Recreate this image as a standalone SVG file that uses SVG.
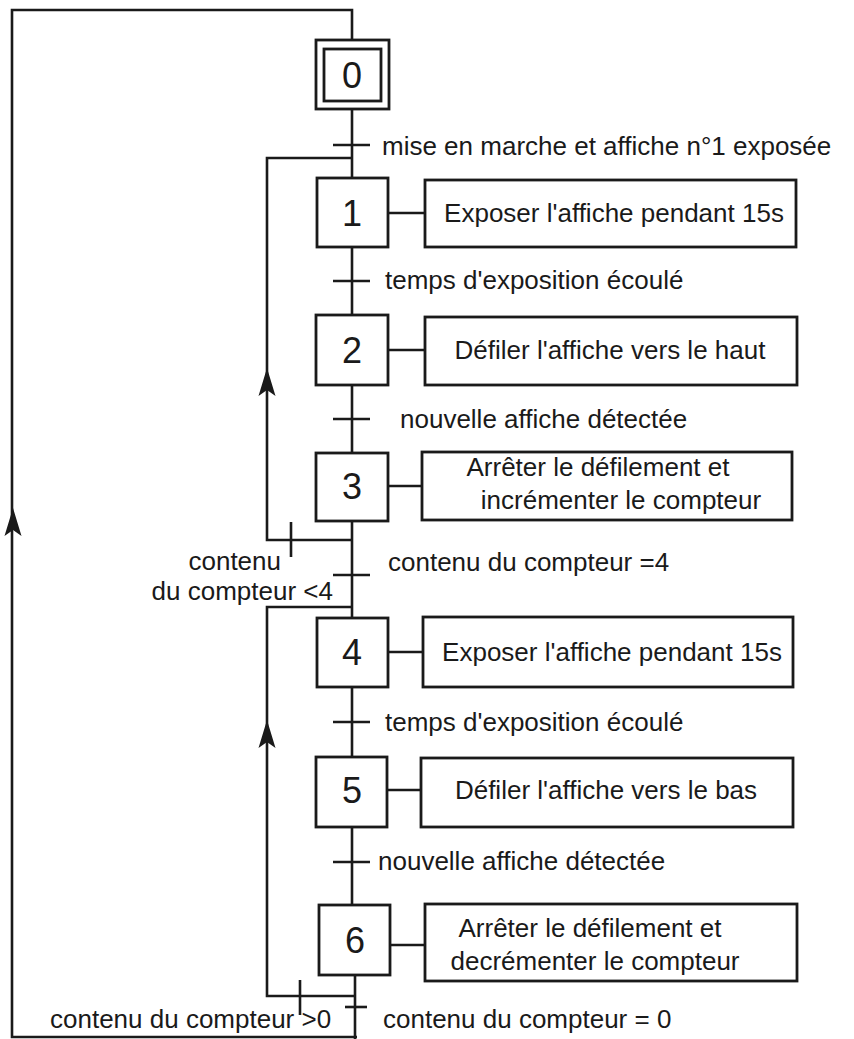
<svg xmlns="http://www.w3.org/2000/svg" width="854" height="1039" viewBox="0 0 854 1039">
<style>
.box{fill:#fff;stroke:#1a1a1a;stroke-width:2.8}
.ln{fill:none;stroke:#1a1a1a;stroke-width:2.6}
.tr{stroke:#1a1a1a;stroke-width:2.6}
.num{font-family:"Liberation Sans",Arial,sans-serif;font-size:36px;fill:#1a1a1a;text-anchor:middle}
.t{font-family:"Liberation Sans",Arial,sans-serif;font-size:26px;fill:#1a1a1a}
.c{text-anchor:middle}
.e{text-anchor:end}
</style>
<defs>
<path id="arr" d="M0,0 L8.5,28 L0,22 L-8.5,28 Z" fill="#1a1a1a"/>
</defs>
<rect width="854" height="1039" fill="#fff"/>
<g id="connectors">
<path class="ln" d="M352,40 V10 H12 V1037 H357"/>
<path class="ln" d="M352,109 V178"/>
<path class="ln" d="M352,247 V315"/>
<path class="ln" d="M352,385 V453"/>
<path class="ln" d="M352,521 V618"/>
<path class="ln" d="M352,687 V757"/>
<path class="ln" d="M352,827 V905"/>
<path class="ln" d="M355,975 V1039"/>
<path class="ln" d="M352,158 H267 V540 H352"/>
<path class="ln" d="M352,607 H267 V996 H355"/>
<path class="ln" d="M388,213 H425"/>
<path class="ln" d="M388,350 H425"/>
<path class="ln" d="M388,486 H422"/>
<path class="ln" d="M388,652 H423"/>
<path class="ln" d="M387,790 H421"/>
<path class="ln" d="M390,945 H425"/>
<line class="tr" x1="333" y1="145" x2="370" y2="145"/>
<line class="tr" x1="333" y1="281" x2="370" y2="281"/>
<line class="tr" x1="333" y1="419" x2="370" y2="419"/>
<line class="tr" x1="333" y1="575" x2="370" y2="575"/>
<line class="tr" x1="333" y1="722" x2="370" y2="722"/>
<line class="tr" x1="333" y1="862" x2="370" y2="862"/>
<line class="tr" x1="345" y1="1007" x2="367" y2="1007"/>
<line class="tr" x1="291" y1="522" x2="291" y2="557"/>
<line class="tr" x1="300" y1="980" x2="300" y2="1015"/>
<use href="#arr" x="13" y="508"/>
<use href="#arr" x="267" y="368"/>
<use href="#arr" x="267" y="720"/>
</g>
<g id="step0">
<rect class="box" x="316" y="40" width="73" height="69"/>
<rect class="box" x="324" y="49" width="57" height="52"/>
<text class="num" x="352" y="88">0</text>
</g>
<g id="step1">
<rect class="box" x="317" y="178" width="71" height="69"/>
<text class="num" x="352" y="226">1</text>
</g>
<g id="action1">
<rect class="box" x="425" y="180" width="371" height="67"/>
<text class="t c" x="614" y="222">Exposer l'affiche pendant 15s</text>
</g>
<g id="step2">
<rect class="box" x="316" y="315" width="72" height="70"/>
<text class="num" x="352" y="363">2</text>
</g>
<g id="action2">
<rect class="box" x="425" y="317" width="372" height="68"/>
<text class="t c" x="610" y="359">Défiler l'affiche vers le haut</text>
</g>
<g id="step3">
<rect class="box" x="316" y="453" width="72" height="68"/>
<text class="num" x="352" y="499">3</text>
</g>
<g id="action3">
<rect class="box" x="422" y="452" width="370" height="68"/>
<text class="t c" x="598" y="476">Arrêter le défilement et</text>
<text class="t c" x="621" y="509">incrémenter le compteur</text>
</g>
<g id="step4">
<rect class="box" x="317" y="618" width="71" height="69"/>
<text class="num" x="352" y="665">4</text>
</g>
<g id="action4">
<rect class="box" x="423" y="617" width="370" height="70"/>
<text class="t c" x="612" y="661">Exposer l'affiche pendant 15s</text>
</g>
<g id="step5">
<rect class="box" x="316" y="757" width="71" height="70"/>
<text class="num" x="352" y="803">5</text>
</g>
<g id="action5">
<rect class="box" x="421" y="758" width="372" height="69"/>
<text class="t c" x="606" y="799">Défiler l'affiche vers le bas</text>
</g>
<g id="step6">
<rect class="box" x="319" y="905" width="71" height="70"/>
<text class="num" x="355" y="953">6</text>
</g>
<g id="action6">
<rect class="box" x="425" y="904" width="372" height="77"/>
<text class="t c" x="590" y="937">Arrêter le défilement et</text>
<text class="t c" x="595" y="970">decrémenter le compteur</text>
</g>
<g id="labels">
<text class="t" x="382" y="155">mise en marche et affiche n°1 exposée</text>
<text class="t" x="385" y="289">temps d'exposition écoulé</text>
<text class="t" x="400" y="428">nouvelle affiche détectée</text>
<text class="t" x="388" y="571">contenu du compteur =4</text>
<text class="t e" x="281" y="570">contenu</text>
<text class="t e" x="333" y="600">du compteur &lt;4</text>
<text class="t" x="385" y="731">temps d'exposition écoulé</text>
<text class="t" x="378" y="870">nouvelle affiche détectée</text>
<text class="t" x="50" y="1028">contenu du compteur &gt;0</text>
<text class="t" x="383" y="1028">contenu du compteur = 0</text>
</g>
</svg>
